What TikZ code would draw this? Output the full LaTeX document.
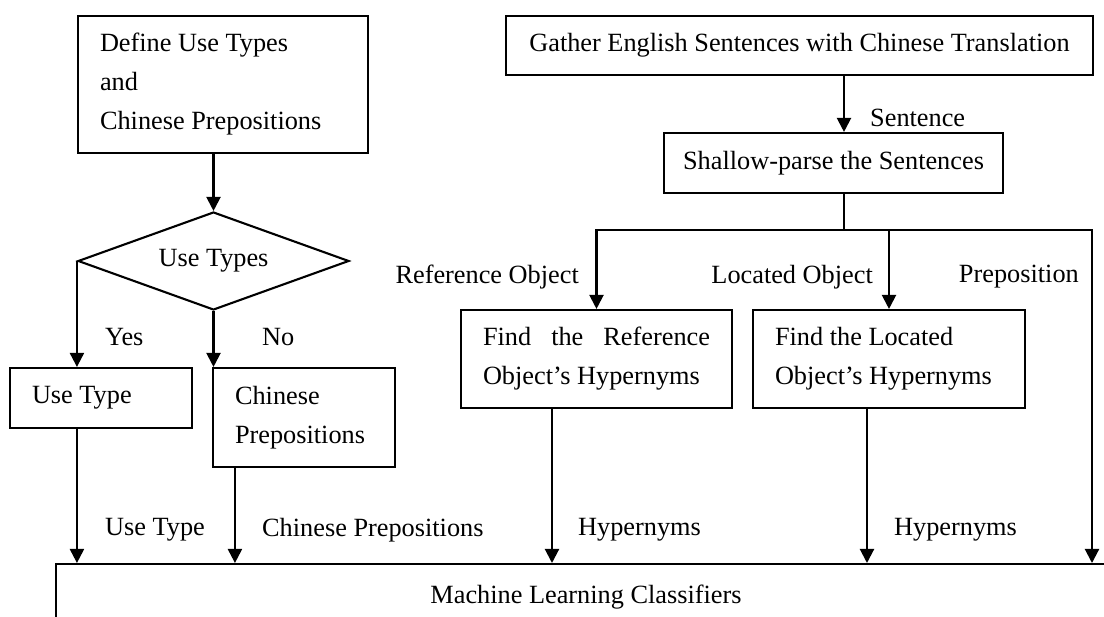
\documentclass[tikz,border=0pt]{standalone}
\usepackage{fontspec}
\setmainfont{Liberation Serif}
\usetikzlibrary{arrows.meta,shapes.geometric}
\begin{document}
\begin{tikzpicture}[x=1pt,y=-1pt,
  font=\fontsize{26.3}{39}\selectfont,
  box/.style={draw, line width=2.1pt, inner xsep=22pt, inner ysep=0pt, align=flush left},
  sbox/.style={draw, line width=2.1pt, inner sep=0pt},
  lab/.style={inner sep=0pt, anchor=west},
  rlab/.style={inner sep=0pt, anchor=east},
  arr/.style={line width=2.1pt, -{Triangle[length=14pt,width=14pt]}},
  ln/.style={line width=2.1pt}]
\clip (0,0) rectangle (1104,617);
\fill[white] (0,0) rectangle (1104,617);

% boxes
\node[box, text width=246pt, minimum height=137pt] (def) at (223,84.5) {Define Use Types\\and\\Chinese Prepositions};
\node[draw, line width=2.1pt, diamond, aspect=2.77, minimum width=271pt, minimum height=98pt, inner sep=0pt] (dia) at (213.5,261) {Use Types};
\node[box, text width=138pt, minimum height=60pt] (ut) at (101,398) {Use Type};
\node[box, text width=138pt, minimum height=99pt] (cp) at (304,417.5) {Chinese\\Prepositions};
\node[sbox, minimum width=587pt, minimum height=59pt] (ga) at (799.5,45.5) {Gather English Sentences with Chinese Translation};
\node[sbox, minimum width=339pt, minimum height=60pt] (sh) at (833.5,163) {Shallow-parse the Sentences};
\node[box, text width=227pt, minimum height=98pt] (rf) at (596.5,359) {Find\hfill the\hfill Reference\\Object's Hypernyms};
\node[box, text width=228pt, minimum height=98pt] (lo) at (889,359) {Find the Located\\Object's Hypernyms};
\node[draw, line width=2.1pt, anchor=north west, minimum width=1100pt, minimum height=100pt, inner sep=0pt] (ml) at (55,563) {};
\node[inner sep=0pt] (mlt) at (586,597) {Machine Learning Classifiers};

% helper coordinates
\coordinate (sp) at (844,230);
\coordinate (br) at (1092,230);
\coordinate (cpo) at ([xshift=23pt]cp.south west);
\coordinate (rfo) at ([xshift=-44.5pt]rf.south);
\coordinate (loo) at ([xshift=-22pt]lo.south);

% connectors
\draw[arr] (def.south -| dia.north) -- (dia.north);
\draw[arr] (dia.west) -- (dia.west |- ut.north);
\draw[arr] (dia.south) -- (dia.south |- cp.north);
\draw[arr] (ut.south -| dia.west) -- (dia.west |- ml.north);
\draw[arr] (cpo) -- (cpo |- ml.north);
\draw[arr] (ga.south -| sp) -- (sh.north -| sp);
\draw[ln] (sh.south -| sp) -- (sp);
\draw[arr] (sp) -| (rf.north);
\draw[arr] (sp) -| (ml.north -| br);
\draw[arr] (lo.north |- sp) -- (lo.north);
\draw[arr] (rfo) -- (rfo |- ml.north);
\draw[arr] (loo) -- (loo |- ml.north);

% labels
\node[lab] (lyes) at (105,337) {Yes};
\node[lab] (lno) at (262,337) {No};
\node[lab] (lsen) at (870,118) {Sentence};
\node[rlab] (lref) at (579,277) {Reference Object};
\node[rlab] (lloc) at (873,277) {Located Object};
\node[rlab] (lprep) at (1079,277) {Preposition};
\node[lab] (lut) at (105,530) {Use Type};
\node[lab] (lcp) at (262,530) {Chinese Prepositions};
\node[lab] (lh1) at (578,530) {Hypernyms};
\node[lab] (lh2) at (894,530) {Hypernyms};
\end{tikzpicture}
\end{document}
